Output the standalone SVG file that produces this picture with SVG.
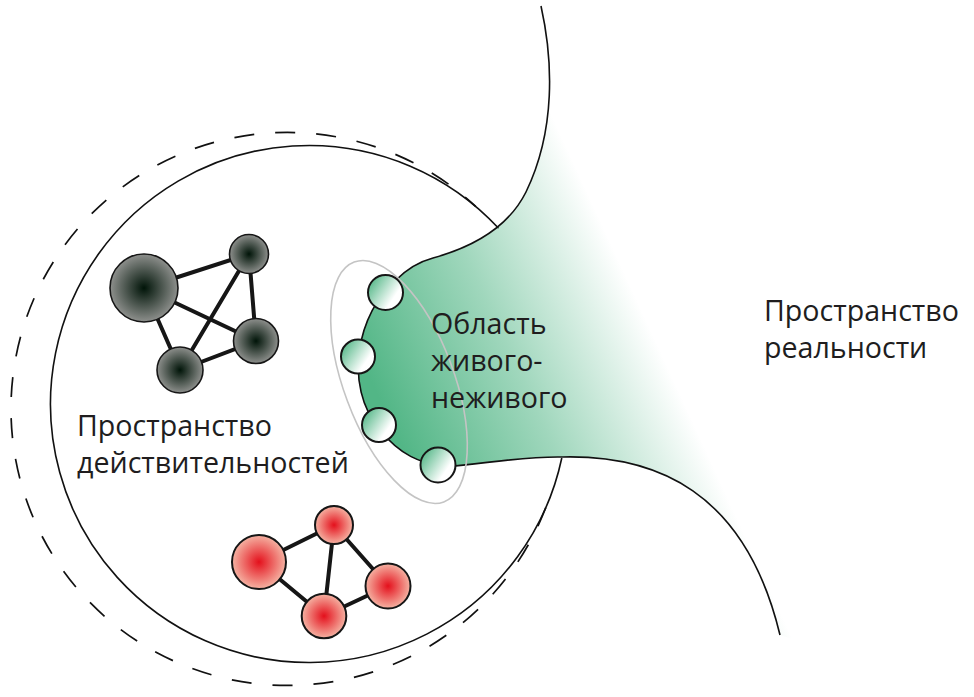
<svg xmlns="http://www.w3.org/2000/svg" width="974" height="697" viewBox="0 0 974 697">
  <style>
    .line { fill: none; stroke: #111; stroke-width: 1.6; }
    .dash { fill: none; stroke: #111; stroke-width: 1.7; stroke-dasharray: 20 21; }
    .edge { stroke: #161616; stroke-width: 4; stroke-linecap: round; }
    .dark { fill: url(#gDark); stroke: #161616; stroke-width: 1.6; }
    .red { fill: url(#gRed); stroke: #161616; stroke-width: 2; }
    .bub { fill: url(#gBub); stroke: #161616; stroke-width: 2; }
    .lbl { font-family: "Open Sans", "Noto Sans", sans-serif; font-size: 28.6px; fill: #201d1e; }
  </style>
  <defs>
    <radialGradient id="gDark" cx="0.5" cy="0.5" r="0.5">
      <stop offset="0" stop-color="#001408"/>
      <stop offset="1" stop-color="#8e908d"/>
    </radialGradient>
    <radialGradient id="gRed" cx="0.5" cy="0.5" r="0.5">
      <stop offset="0" stop-color="#e4101c"/>
      <stop offset="1" stop-color="#f5b3a3"/>
    </radialGradient>
    <linearGradient id="gBub" x1="0" y1="0.2" x2="0.9" y2="0.8">
      <stop offset="0" stop-color="#4fb584"/>
      <stop offset="0.8" stop-color="#ffffff"/>
      <stop offset="1" stop-color="#ffffff"/>
    </linearGradient>
    <linearGradient id="gFill" gradientUnits="userSpaceOnUse" x1="380" y1="400" x2="630" y2="285">
      <stop offset="0" stop-color="#52b686" stop-opacity="1"/>
      <stop offset="0.5" stop-color="#52b686" stop-opacity="0.55"/>
      <stop offset="1" stop-color="#52b686" stop-opacity="0"/>
    </linearGradient>
  </defs>

  <g id="space-of-actualities">
    <path class="dash" d="M 545.7 507.8 A 276.5 276.5 0 1 1 475.7 206.4"/>
    <path class="line" d="M 498.6 228.3 A 258.5 258.5 0 1 0 561.8 458"/>
  </g>

  <g id="living-nonliving-region">
    <path fill="url(#gFill)" d="M 541 6 C 553 60, 556 130, 526 192 C 514 216, 488 243, 433 258 C 418 262, 406 270, 396 280 C 358 312, 342 385, 380 430 C 400 455, 420 463, 445 467 C 490 463, 525 456, 563 457 C 655 455, 745 490, 780 635 L 974 697 L 974 0 L 541 0 Z"/>
    <path class="line" d="M 541 6 C 553 60, 556 130, 526 192 C 514 216, 488 243, 433 258 C 418 262, 406 270, 396 280 C 358 312, 342 385, 380 430 C 400 455, 420 463, 445 467 C 490 463, 525 456, 563 457 C 655 455, 745 490, 780 635"/>
    <ellipse cx="399" cy="382" rx="55" ry="128" transform="rotate(-20.5 399 382)" fill="none" stroke="#c4c4c4" stroke-width="1.6"/>
  </g>

  <g id="bubble-1"><circle class="bub" cx="385.5" cy="292.5" r="17.5"/></g>
  <g id="bubble-2"><circle class="bub" cx="358" cy="356.5" r="17"/></g>
  <g id="bubble-3"><circle class="bub" cx="379" cy="425" r="17"/></g>
  <g id="bubble-4"><circle class="bub" cx="438" cy="465" r="17.5"/></g>

  <g id="connectors">
    <line class="edge" x1="144" y1="288" x2="249" y2="254"/>
    <line class="edge" x1="144" y1="288" x2="256" y2="341"/>
    <line class="edge" x1="144" y1="288" x2="180" y2="370"/>
    <line class="edge" x1="249" y1="254" x2="256" y2="341"/>
    <line class="edge" x1="249" y1="254" x2="180" y2="370"/>
    <line class="edge" x1="180" y1="370" x2="256" y2="341"/>
    <line class="edge" x1="259" y1="562" x2="334" y2="525"/>
    <line class="edge" x1="259" y1="562" x2="324" y2="616"/>
    <line class="edge" x1="334" y1="525" x2="324" y2="616"/>
    <line class="edge" x1="334" y1="525" x2="388" y2="586"/>
    <line class="edge" x1="324" y1="616" x2="388" y2="586"/>
  </g>

  <g id="dark-1"><circle class="dark" cx="144" cy="288" r="34"/></g>
  <g id="dark-2"><circle class="dark" cx="249" cy="254" r="19.5"/></g>
  <g id="dark-3"><circle class="dark" cx="256" cy="341" r="22.5"/></g>
  <g id="dark-4"><circle class="dark" cx="180" cy="370" r="23"/></g>

  <g id="red-1"><circle class="red" cx="259" cy="562" r="27"/></g>
  <g id="red-2"><circle class="red" cx="334" cy="525" r="19"/></g>
  <g id="red-3"><circle class="red" cx="388" cy="586" r="22.5"/></g>
  <g id="red-4"><circle class="red" cx="324" cy="616" r="22.3"/></g>

  <g id="label-actualities">
    <text class="lbl" x="77" y="436">Пространство<tspan x="77" dy="36.5">действительностей</tspan></text>
  </g>
  <g id="label-living">
    <text class="lbl" x="431" y="334">Область<tspan x="431" dy="37">живого-</tspan><tspan x="431" dy="37">неживого</tspan></text>
  </g>
  <g id="label-reality">
    <text class="lbl" x="764" y="321">Пространство<tspan x="764" dy="36.5">реальности</tspan></text>
  </g>
</svg>
